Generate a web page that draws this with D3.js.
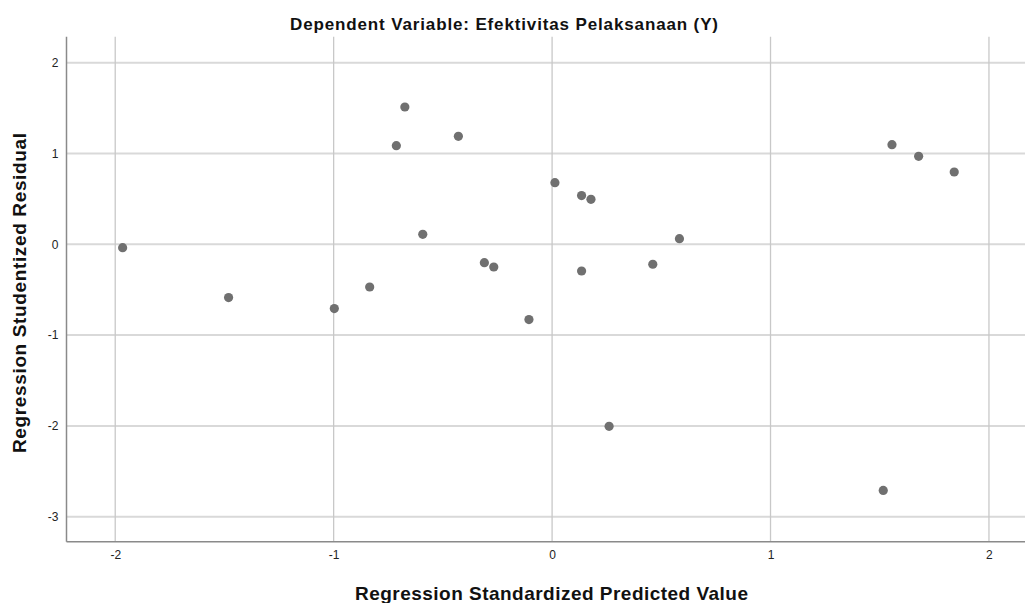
<!DOCTYPE html>
<html><head><meta charset="utf-8">
<script src="https://cdn.jsdelivr.net/npm/d3@7"></script>
<style>body{margin:0;background:#fff}svg{display:block}text{font-family:"Liberation Sans",Arial,sans-serif}</style>
</head><body>
<script>
const title = "Dependent Variable: Efektivitas Pelaksanaan (Y)";
const xLabel = "Regression Standardized Predicted Value";
const yLabel = "Regression Studentized Residual";
const xTicks = [-2, -1, 0, 1, 2];
const yTicks = [2, 1, 0, -1, -2, -3];
const predicted = [-1.966, -1.481, -0.997, -0.835, -0.713, -0.674, -0.592, -0.429, -0.310, -0.267, -0.106, 0.013, 0.135, 0.178, 0.135, 0.261, 0.461, 0.583, 1.516, 1.556, 1.678, 1.841];
const residual  = [-0.037, -0.587, -0.708, -0.470, 1.086, 1.512, 0.110, 1.189, -0.202, -0.250, -0.829, 0.679, 0.536, 0.495, -0.294, -2.005, -0.220, 0.062, -2.710, 1.097, 0.969, 0.796];

const W = 1027, H = 603;
const L = 66.5, R = 1025, T = 36.7, B = 541.7;
const svg = d3.select("body").append("svg").attr("width", W).attr("height", H);
const x = d3.scaleLinear().domain([-2.223, 2.165]).range([L, R]);
const y = d3.scaleLinear().domain([-3.275, 2.286]).range([B, T]);
const fmt = d => String(d);

// gridlines
svg.append("g").selectAll("line").data(yTicks).join("line")
  .attr("x1", L).attr("x2", R).attr("y1", d => y(d)).attr("y2", d => y(d))
  .attr("stroke", "#d9d9d9").attr("stroke-width", 2);
svg.append("g").selectAll("line").data(xTicks).join("line")
  .attr("x1", d => x(d)).attr("x2", d => x(d)).attr("y1", T).attr("y2", B)
  .attr("stroke", "#c8c8c8").attr("stroke-width", 1.3);

// axes
const xa = svg.append("g").attr("transform", `translate(0,${B})`)
  .call(d3.axisBottom(x).tickValues(xTicks).tickSize(0).tickPadding(9).tickFormat(fmt));
const ya = svg.append("g").attr("transform", `translate(${L},0)`)
  .call(d3.axisLeft(y).tickValues(yTicks).tickSize(0).tickPadding(8).tickFormat(fmt));
[xa, ya].forEach(a => {
  a.select(".domain").attr("stroke", "#8a8a8a").attr("stroke-width", 1.5);
  a.selectAll("text").attr("font-size", 12).attr("fill", "#222").attr("font-family", '"Liberation Sans",Arial,sans-serif');
});
xa.select(".domain").attr("d", `M${L},0H${R}`);
ya.select(".domain").attr("d", `M0,${T}V${B}`);

// points
svg.append("g").selectAll("circle").data(predicted.map((p, i) => [p, residual[i]])).join("circle")
  .attr("cx", d => x(d[0])).attr("cy", d => y(d[1])).attr("r", 4.6).attr("fill", "#707070");

// titles
svg.append("text").attr("x", 504).attr("y", 29.5).attr("text-anchor", "middle")
  .attr("font-size", 17).attr("font-weight", "bold").attr("fill", "#111")
  .attr("textLength", 428).attr("lengthAdjust", "spacing").text(title);
svg.append("text").attr("x", 551.5).attr("y", 599.5).attr("text-anchor", "middle")
  .attr("font-size", 19).attr("font-weight", "bold").attr("fill", "#111")
  .attr("textLength", 393).attr("lengthAdjust", "spacing").text(xLabel);
svg.append("text").attr("transform", "translate(25.5,293) rotate(-90)").attr("text-anchor", "middle")
  .attr("font-size", 19).attr("font-weight", "bold").attr("fill", "#111")
  .attr("textLength", 320).attr("lengthAdjust", "spacing").text(yLabel);
</script>
</body></html>
